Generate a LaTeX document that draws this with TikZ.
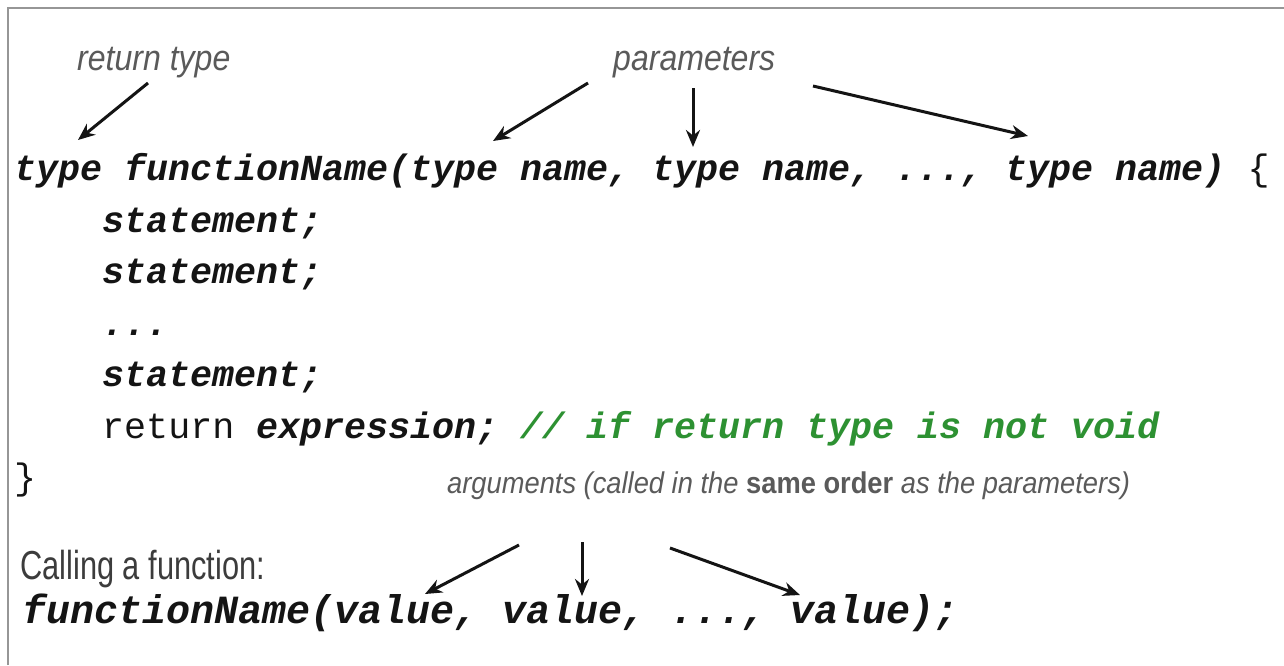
\documentclass[tikz,border=0pt]{standalone}
\usepackage{fontspec}
\usetikzlibrary{arrows.meta}
\newfontfamily\codef{Liberation Mono}
\newfontfamily\labf[FakeStretch=0.89]{Liberation Sans}
\newfontfamily\arglabf[FakeStretch=0.91]{Liberation Sans}
\newfontfamily\callf[FakeStretch=0.76]{Liberation Sans}
\definecolor{codegreen}{RGB}{45,145,50}
\definecolor{labgray}{RGB}{90,90,90}
\definecolor{callgray}{RGB}{60,60,60}
\definecolor{framegray}{RGB}{150,150,150}
\definecolor{codeblack}{RGB}{20,20,20}
\tikzset{
  codeline/.style={anchor=base west, inner sep=0pt, text=codeblack,
    font=\codef\bfseries\itshape\fontsize{36.7}{40}\selectfont},
  callline/.style={anchor=base west, inner sep=0pt, text=codeblack,
    font=\codef\bfseries\itshape\fontsize{40}{44}\selectfont},
  lab/.style={anchor=base west, inner sep=0pt, text=labgray,
    font=\labf\itshape\fontsize{36}{40}\selectfont},
  arglab/.style={anchor=base west, inner sep=0pt, text=labgray,
    font=\arglabf\itshape\fontsize{30}{34}\selectfont},
  calltext/.style={anchor=base west, inner sep=0pt, text=callgray,
    font=\callf\fontsize{40.5}{44}\selectfont},
  ptr/.style={-{Stealth[length=17pt,width=14pt]}, line width=3pt, draw=codeblack},
  framel/.style={draw=framegray, line width=2pt},
}
\begin{document}
\begin{tikzpicture}[x=1pt,y=-1pt]
\useasboundingbox (0,0) rectangle (1284,665);
\fill[white] (0,0) rectangle (1284,665);
% frame
\coordinate (fbl) at (8,665);
\coordinate (ftl) at (8,8);
\coordinate (ftr) at (1284,8);
\draw[framel] (fbl) -- (ftl) -- (ftr);
% labels
\node[lab] (rtlab) at (77,70) {return type};
\node[lab] (parlab) at (613,70) {parameters};
% code
\node[codeline] (l1) at (14,180) {type functionName(type name, type name, ..., type name) {\mdseries\upshape\{}};
\node[codeline] (l2) at (102,232) {statement;};
\node[codeline] (l3) at (102,283.5) {statement;};
\node[codeline] (l4) at (102,335) {...};
\node[codeline] (l5) at (102,386.5) {statement;};
\node[codeline] (l6) at (102,438) {{\mdseries\upshape return} expression; \textcolor{codegreen}{// if return type is not void}};
\node[codeline] (l7) at (14,489) {{\mdseries\upshape\}}};
\node[arglab] (arglab) at (447,493) {arguments (called in the {\upshape\bfseries same order} as the parameters)};
\node[calltext] (call) at (20,579) {Calling a function:};
\node[callline] (l8) at (22,623) {functionName(value, value, ..., value);};
% arrow ends
\coordinate (a0s) at (148,83);  \coordinate (a0t) at (78,140);
\coordinate (a1s) at (588,83);  \coordinate (a1t) at (493,141);
\coordinate (a2s) at (693,88);  \coordinate (a2t) at (693,147);
\coordinate (a3s) at (813,86);  \coordinate (a3t) at (1028,136);
\coordinate (b1s) at (519,545); \coordinate (b1t) at (425,594);
\coordinate (b2s) at (582,542); \coordinate (b2t) at (582,596);
\coordinate (b3s) at (670,548); \coordinate (b3t) at (800,595);
\draw[ptr] (a0s) -- (a0t);
\draw[ptr] (a1s) -- (a1t);
\draw[ptr] (a2s) -- (a2t);
\draw[ptr] (a3s) -- (a3t);
\draw[ptr] (b1s) -- (b1t);
\draw[ptr] (b2s) -- (b2t);
\draw[ptr] (b3s) -- (b3t);
\end{tikzpicture}
\end{document}
